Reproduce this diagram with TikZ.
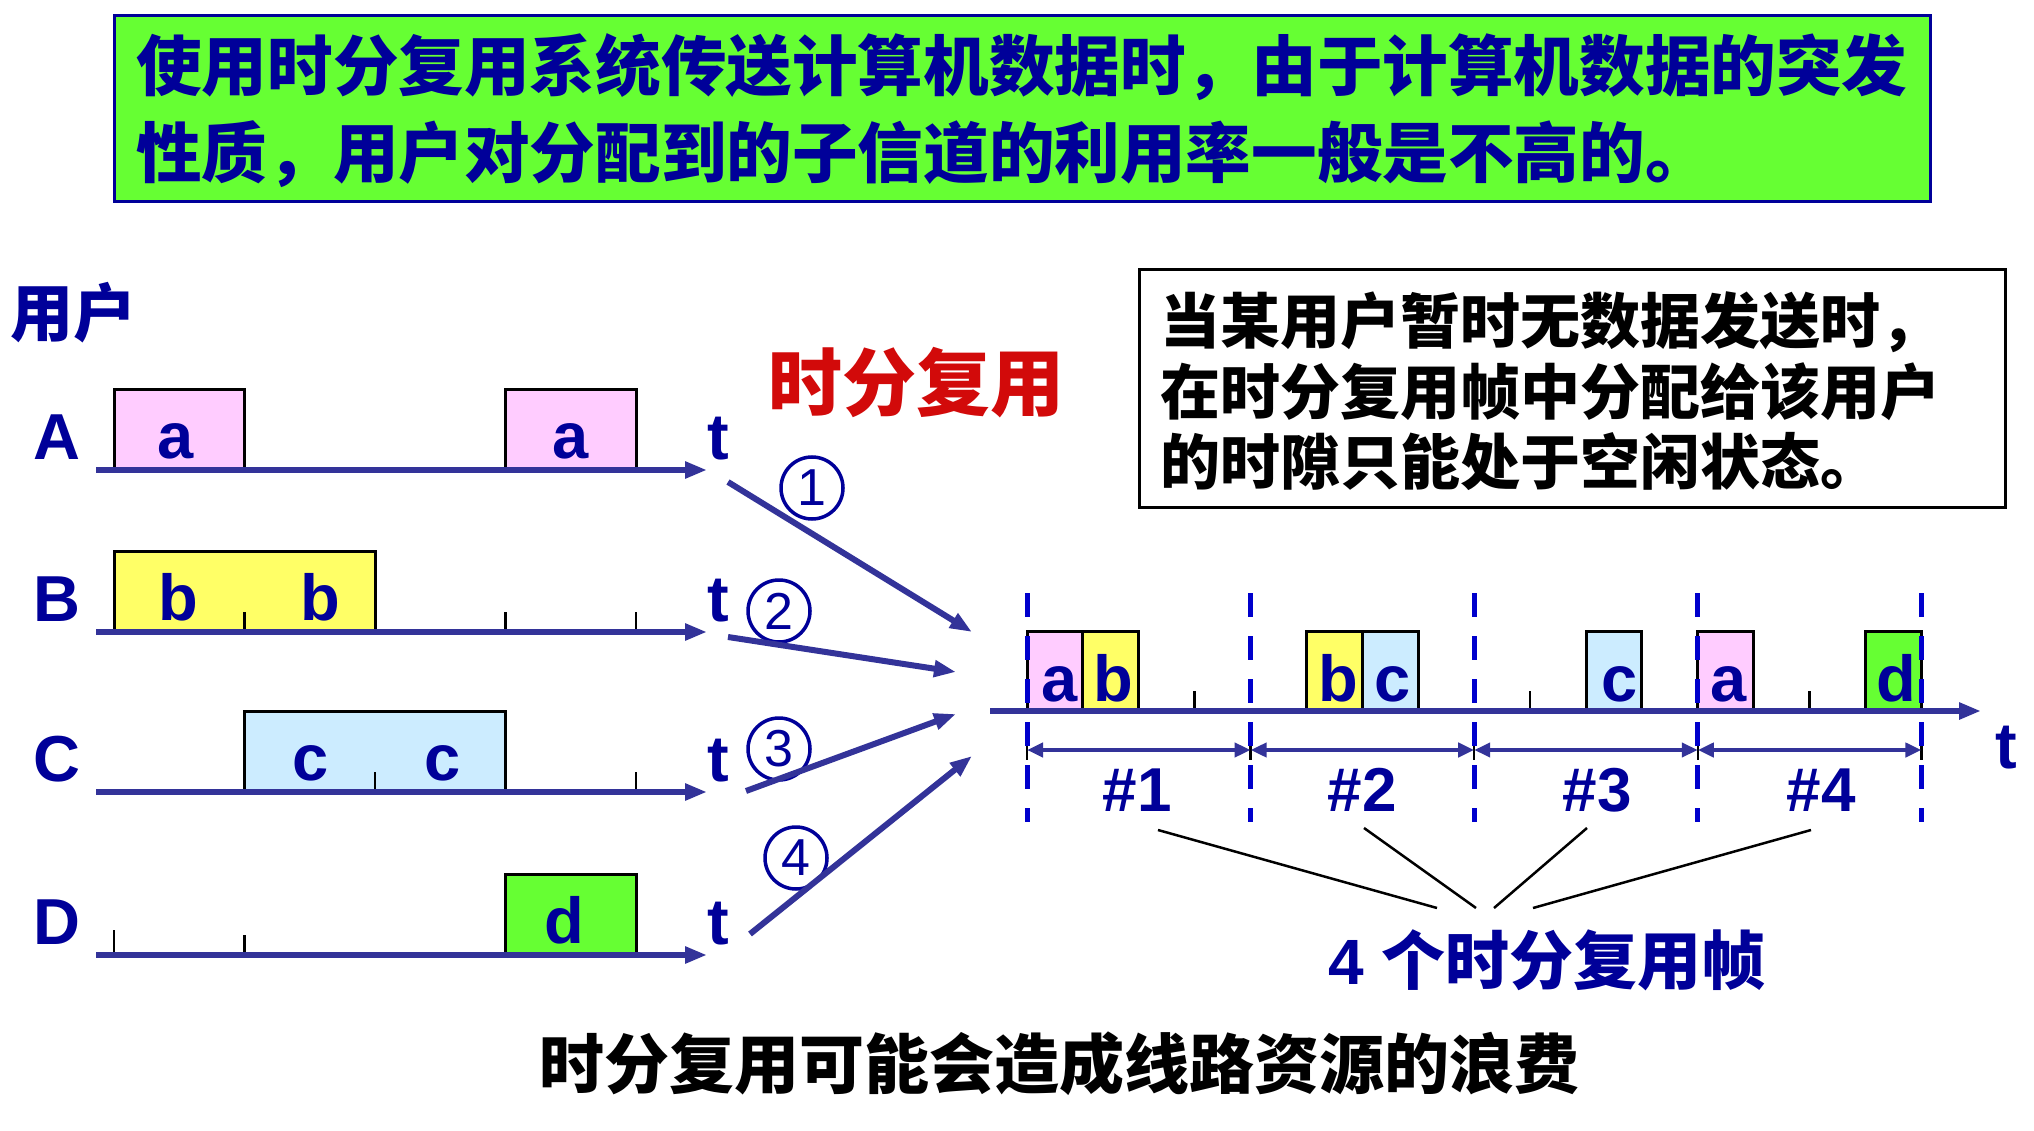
\documentclass[tikz,border=0pt]{standalone}
\usepackage{fontspec}
\setmainfont{Liberation Sans}
\newfontfamily\cjk{Noto Sans CJK SC}
\usetikzlibrary{arrows.meta}
\definecolor{navy}{RGB}{0,0,153}
\definecolor{axc}{RGB}{51,51,153}
\definecolor{dashblue}{RGB}{0,0,204}
\definecolor{pinkc}{RGB}{255,204,255}
\definecolor{yellowc}{RGB}{255,255,102}
\definecolor{lbluec}{RGB}{204,236,255}
\definecolor{greenc}{RGB}{102,255,51}
\definecolor{redc}{RGB}{210,10,10}
\newcommand\myfs[1]{\fontsize{#1}{#1}\selectfont}
\tikzset{
  axisline/.style={draw=axc, line width=6pt, -{Triangle[length=22pt,width=16pt]}},
  slotbox/.style={draw=black, line width=3pt},
  tickm/.style={draw=black, line width=2.5pt},
  lbl/.style={inner sep=0pt, anchor=base, text=navy, font=\bfseries\myfs{65}},
  conn/.style={draw=axc, line width=6pt, -{Triangle[length=22pt,width=16pt]}},
  circnum/.style={circle, draw=navy, line width=3.5pt, minimum size=62pt, inner sep=0pt, text=navy, font=\myfs{52}},
  framedash/.style={draw=dashblue, line width=5pt, dash pattern=on 24pt off 19pt},
  dimarrow/.style={draw=axc, line width=4.5pt, {Triangle[length=16pt,width=14pt]}-{Triangle[length=16pt,width=14pt]}},
  brace/.style={draw=black, line width=2.5pt},
  cjktext/.style={inner sep=0pt, font=\cjk\bfseries\myfs{#1}},
}
\begin{document}
\begin{tikzpicture}[x=1pt,y=-1pt]
\useasboundingbox (0,0) rectangle (2034,1131);
\fill[white] (0,0) rectangle (2034,1131);

% top box
\draw[draw=navy, line width=3pt, fill=greenc] (114,16) rectangle (1930,202);
\node[cjktext=65.6, anchor=west, text=navy] (top1) at (136,67) {使用时分复用系统传送计算机数据时，由于计算机数据的突发};
\node[cjktext=65.6, anchor=west, text=navy] (top2) at (136,154) {性质，用户对分配到的子信道的利用率一般是不高的。};

% right note box
\draw[draw=black, line width=3pt] (1139,270) rectangle (2005,507);
\node[cjktext=60, anchor=west, text=black] (note1) at (1160,322) {当某用户暂时无数据发送时，};
\node[cjktext=60, anchor=west, text=black] (note2) at (1160,392) {在时分复用帧中分配给该用户};
\node[cjktext=60, anchor=west, text=black] (note3) at (1160,461) {的时隙只能处于空闲状态。};

% labels
\node[cjktext=63, anchor=west, text=navy] (users) at (10,313) {用户};
\node[cjktext=74, text=redc] (tdm) at (916,383) {时分复用};

% ---- row A (axis 470)
\draw[slotbox, fill=pinkc] (114,389) rectangle (244.5,470);
\draw[slotbox, fill=pinkc] (505.5,389) rectangle (636,470);
\draw[axisline] (96,470) -- (707,470);
\node[lbl] (labA) at (57,459) {A};
\node[lbl] (tA) at (718,459) {t};
\node[lbl] (a1) at (176,458) {a};
\node[lbl] (a2) at (571,458) {a};

% ---- row B (axis 632)
\draw[slotbox, fill=yellowc] (114,551) rectangle (375,632);
\draw[tickm] (244.5,612) -- (244.5,632);
\draw[tickm] (505.5,612) -- (505.5,632);
\draw[tickm] (636,612) -- (636,632);
\draw[axisline] (96,632) -- (707,632);
\node[lbl] (labB) at (57,621) {B};
\node[lbl] (tB) at (718,621) {t};
\node[lbl] (b1) at (178,620) {b};
\node[lbl] (b2) at (320,620) {b};

% ---- row C (axis 792)
\draw[slotbox, fill=lbluec] (244.5,711) rectangle (505.5,792);
\draw[tickm] (375,772) -- (375,792);
\draw[tickm] (636,772) -- (636,792);
\draw[axisline] (96,792) -- (707,792);
\node[lbl] (labC) at (57,781) {C};
\node[lbl] (tC) at (718,781) {t};
\node[lbl] (c1) at (311,780) {c};
\node[lbl] (c2) at (443,780) {c};

% ---- row D (axis 955)
\draw[slotbox, fill=greenc] (505.5,874) rectangle (636,955);
\draw[tickm] (114,930) -- (114,955);
\draw[tickm] (244.5,935) -- (244.5,955);
\draw[axisline] (96,955) -- (707,955);
\node[lbl] (labD) at (57,944) {D};
\node[lbl] (tD) at (718,944) {t};
\node[lbl] (d1) at (564,943) {d};

% circled numbers
\node[circnum] (n1) at (812,488) {1};
\node[circnum] (n2) at (779,611) {2};
\node[circnum] (n3) at (779,749) {3};
\node[circnum] (n4) at (796,858) {4};

% connectors
\coordinate (s1) at (728,482); \coordinate (e1) at (972,632);
\coordinate (s2) at (728,637); \coordinate (e2) at (956,672);
\coordinate (s3) at (746,791); \coordinate (e3) at (956,714);
\coordinate (s4) at (750,934); \coordinate (e4) at (972,756);
\draw[conn] (s1) -- (e1);
\draw[conn] (s2) -- (e2);
\draw[conn] (s3) -- (e3);
\draw[conn] (s4) -- (e4);

% ---- multiplexed line (axis 711), frames start 1027, width 223.6, subslot 55.9
\draw[slotbox, fill=pinkc]   (1027,631) rectangle (1082.9,711);
\draw[slotbox, fill=yellowc] (1082.9,631) rectangle (1138.8,711);
\draw[slotbox, fill=yellowc] (1306.5,631) rectangle (1362.4,711);
\draw[slotbox, fill=lbluec]  (1362.4,631) rectangle (1418.3,711);
\draw[slotbox, fill=lbluec]  (1586,631) rectangle (1641.9,711);
\draw[slotbox, fill=pinkc]   (1697.8,631) rectangle (1753.7,711);
\draw[slotbox, fill=greenc]  (1865.5,631) rectangle (1921.4,711);
\draw[tickm] (1194.7,691) -- (1194.7,711);
\draw[tickm] (1530,691) -- (1530,711);
\draw[tickm] (1809.6,691) -- (1809.6,711);
\draw[axisline] (990,711) -- (1981,711);
\node[lbl] (ra1) at (1060,701) {a};
\node[lbl] (rb1) at (1113,701) {b};
\node[lbl] (rb2) at (1338,701) {b};
\node[lbl] (rc2) at (1393,701) {c};
\node[lbl] (rc3) at (1620,701) {c};
\node[lbl] (ra4) at (1729,701) {a};
\node[lbl] (rd4) at (1896,701) {d};
\node[lbl] (tR) at (2006,768) {t};

% frame dimension arrows
\foreach \i in {0,...,4} {
  \draw[tickm] (1027+\i*223.6,741) -- (1027+\i*223.6,760);
}
\draw[dimarrow] (1027,750) -- (1250.6,750);
\draw[dimarrow] (1250.6,750) -- (1474.2,750);
\draw[dimarrow] (1474.2,750) -- (1697.8,750);
\draw[dimarrow] (1697.8,750) -- (1921.4,750);

% dashed frame boundaries
\foreach \i in {0,...,4} {
  \draw[framedash] (1027+\i*223.6,593) -- (1027+\i*223.6,822);
}

% frame labels
\node[lbl, font=\bfseries\myfs{62}] (f1) at (1137,811) {\#1};
\node[lbl, font=\bfseries\myfs{62}] (f2) at (1362,811) {\#2};
\node[lbl, font=\bfseries\myfs{62}] (f3) at (1597,811) {\#3};
\node[lbl, font=\bfseries\myfs{62}] (f4) at (1821,811) {\#4};

% four frames label
\node[inner sep=0pt, anchor=west, text=navy, font=\bfseries\myfs{64}] (frames) at (1328,960) {4 {\cjk 个时分复用帧}};
\coordinate (g1) at (1158,830); \coordinate (h1) at (1437,908);
\coordinate (g2) at (1364,828); \coordinate (h2) at (1476,908);
\coordinate (g3) at (1587,828); \coordinate (h3) at (1494,908);
\coordinate (g4) at (1811,830); \coordinate (h4) at (1533,908);
\draw[brace] (g1) -- (h1);
\draw[brace] (g2) -- (h2);
\draw[brace] (g3) -- (h3);
\draw[brace] (g4) -- (h4);

% bottom caption
\node[cjktext=65, text=black] (caption) at (1059,1064) {时分复用可能会造成线路资源的浪费};
\end{tikzpicture}
\end{document}
